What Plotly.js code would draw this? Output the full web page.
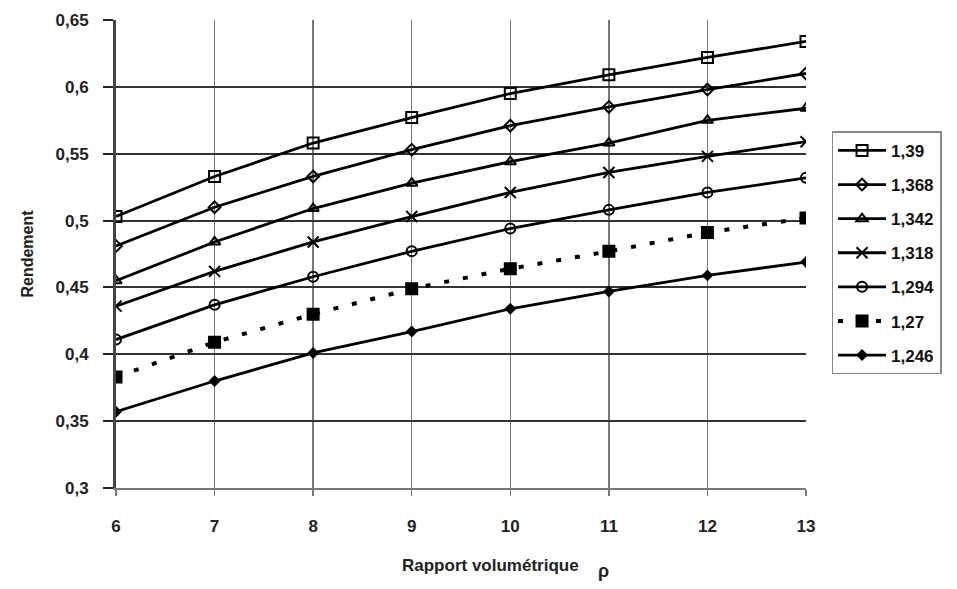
<!DOCTYPE html>
<html>
<head>
<meta charset="utf-8">
<script src="https://cdn.plot.ly/plotly-3.0.1.min.js"></script>
<style>html,body{margin:0;padding:0;background:#fff;}#chart{width:957px;height:589px;}</style>
</head>
<body>
<div id="chart"></div>
<script>
var rapport = [6, 7, 8, 9, 10, 11, 12, 13];
var seriesNames = ["1,39", "1,368", "1,342", "1,318", "1,294", "1,27", "1,246"];
var s139  = [0.503, 0.533, 0.558, 0.577, 0.595, 0.609, 0.622, 0.634];
var s1368 = [0.481, 0.510, 0.533, 0.553, 0.571, 0.585, 0.598, 0.610];
var s1342 = [0.455, 0.484, 0.509, 0.528, 0.544, 0.558, 0.575, 0.584];
var s1318 = [0.436, 0.462, 0.484, 0.503, 0.521, 0.536, 0.548, 0.559];
var s1294 = [0.411, 0.437, 0.458, 0.477, 0.494, 0.508, 0.521, 0.532];
var s127  = [0.383, 0.409, 0.430, 0.449, 0.464, 0.477, 0.491, 0.502];
var s1246 = [0.357, 0.380, 0.401, 0.417, 0.434, 0.447, 0.459, 0.469];
var yTicks = [0.3, 0.35, 0.4, 0.45, 0.5, 0.55, 0.6, 0.65];
var yTickText = ["0,3", "0,35", "0,4", "0,45", "0,5", "0,55", "0,6", "0,65"];
var xTitle = "Rapport volumétrique";
var xTitleSymbol = "ρ";
var yTitle = "Rendement";

var allSeries = [s139, s1368, s1342, s1318, s1294, s127, s1246];
var symbols = ["square-open", "diamond-open", "triangle-up-open", "x-thin-open", "circle-open", "square", "diamond"];
var sizes = [11, 9, 10, 11, 10, 11, 7];
var dashes = ["solid", "solid", "solid", "solid", "solid", "5px,14px", "solid"];

var traces = allSeries.map(function (ys, i) {
  return {
    x: rapport, y: ys, name: seriesNames[i], type: "scatter", mode: "lines+markers",
    legendgroup: "g" + i,
    line: {color: "#000", width: i === 5 ? 4 : 2.8, dash: dashes[i]},
    marker: {symbol: symbols[i], size: sizes[i], color: "#000", line: {color: "#000", width: 2}}
  };
});

var fontFam = "Liberation Sans, Arial, sans-serif";
var layout = {
  width: 957, height: 589,
  margin: {l: 116, r: 151, t: 20, b: 101},
  paper_bgcolor: "#fff", plot_bgcolor: "#fff",
  showlegend: true,
  font: {family: fontFam, color: "#111", size: 14},
  xaxis: {
    range: [6, 13], tickvals: rapport, ticktext: rapport.map(String),
    showgrid: true, gridcolor: "#777", gridwidth: 1.5,
    showline: true, linecolor: "#777", linewidth: 1.5,
    zeroline: false, ticks: "outside", ticklen: 6, tickwidth: 1.5, tickcolor: "#777",
    ticklabelstandoff: 16,
    tickfont: {family: fontFam, size: 17, weight: "bold", color: "#222"}
  },
  yaxis: {
    range: [0.3, 0.65], tickvals: yTicks, ticktext: yTickText,
    showgrid: true, gridcolor: "#333", gridwidth: 2,
    showline: true, linecolor: "#444", linewidth: 3,
    zeroline: false, ticks: "outside", ticklen: 10, tickwidth: 2, tickcolor: "#222",
    ticklabelstandoff: 11,
    tickfont: {family: fontFam, size: 17, weight: "bold", color: "#222"},
    title: {text: yTitle, font: {family: fontFam, size: 16, weight: "bold", color: "#222"}, standoff: 18}
  },
  annotations: [
    {text: xTitle, xref: "paper", yref: "paper", x: (490 - 116) / 690, y: -(565 - 488) / 468,
     xanchor: "center", yanchor: "middle", showarrow: false,
     font: {family: fontFam, size: 17, weight: "bold", color: "#222"}},
    {text: xTitleSymbol, xref: "paper", yref: "paper", x: (603 - 116) / 690, y: -(571 - 488) / 468,
     xanchor: "center", yanchor: "middle", showarrow: false,
     font: {family: fontFam, size: 18, weight: "bold", color: "#222"}}
  ],
  legend: {
    x: 1.037, y: 0.762, xanchor: "left", yanchor: "top",
    bgcolor: "#fff", bordercolor: "#888", borderwidth: 1.5,
    font: {family: fontFam, size: 17, weight: "bold", color: "#111"},
    traceorder: "grouped", tracegroupgap: 9, itemwidth: 48
  }
};

Plotly.newPlot("chart", traces, layout, {displayModeBar: false, staticPlot: true});
</script>
</body>
</html>
